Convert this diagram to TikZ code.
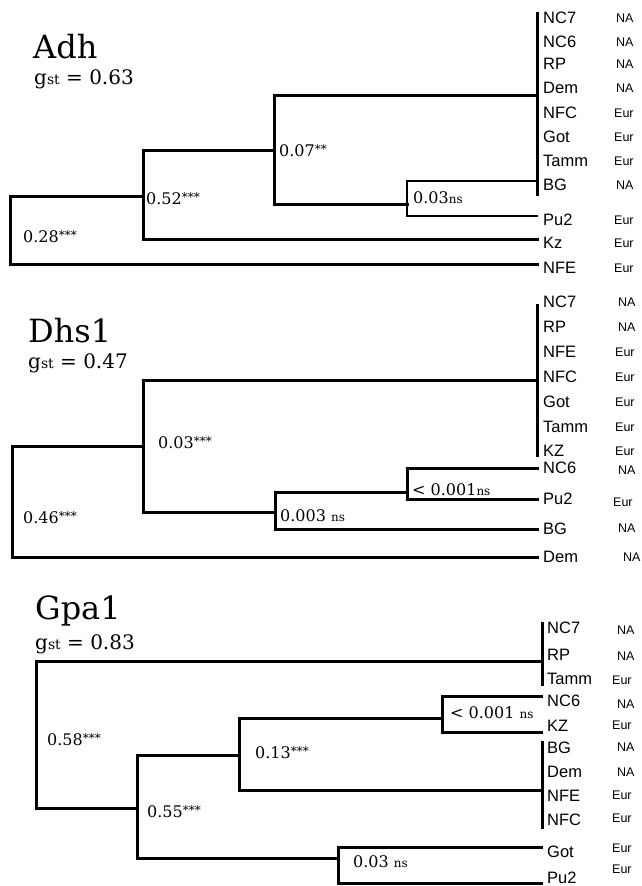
\documentclass[tikz,border=0pt]{standalone}
\usepackage{fontspec}
\setmainfont{DejaVu Serif}
\newfontfamily\leaffont{Liberation Sans}
\tikzset{
  branch/.style={line width=3pt, line cap=rect, line join=miter},
  thinbranch/.style={line width=2.2pt, line cap=rect, line join=miter},
  leaf/.style={anchor=west, inner xsep=6pt, inner ysep=0pt, text height=11.8pt, text depth=0pt, font=\leaffont\fontsize{16.5}{16.5}\selectfont},
  pop/.style={anchor=west, inner sep=0pt, text height=9pt, text depth=0pt, font=\leaffont\fontsize{12.5}{12.5}\selectfont},
  stat/.style={anchor=west, inner sep=0pt, text height=11.6pt, text depth=0pt, font=\fontsize{16}{16}\selectfont},
  gene/.style={anchor=base west, inner sep=0pt, font=\fontsize{32}{32}\selectfont},
  gstat/.style={anchor=base west, inner sep=0pt, font=\fontsize{20}{20}\selectfont},
}
\newcommand{\sig}[1]{\raisebox{3pt}{\fontsize{12}{12}\selectfont #1}}
\newcommand{\nsig}{{\fontsize{12}{12}\selectfont ns}}
\newcommand{\gst}{g{\fontsize{14}{14}\selectfont st}}
\begin{document}
\begin{tikzpicture}[x=1pt,y=-1pt]
\useasboundingbox (0,0) rectangle (641,886);

% Adh
\node[gene] (tAdh) at (33,58) {Adh};
\node[gstat] (gAdh) at (34,84) {\gst{} = 0.63};
\node[leaf] (aNC7) at (537,18) {NC7};   \node[pop] (aNC7p) at (616,18) {NA};
\node[leaf] (aNC6) at (537,42) {NC6};   \node[pop] (aNC6p) at (616,42) {NA};
\node[leaf] (aRP) at (537,64) {RP};     \node[pop] (aRPp) at (616,64) {NA};
\node[leaf] (aDem) at (537,88) {Dem};   \node[pop] (aDemp) at (616,88) {NA};
\node[leaf] (aNFC) at (537,113) {NFC};  \node[pop] (aNFCp) at (614,113) {Eur};
\node[leaf] (aGot) at (537,137) {Got};  \node[pop] (aGotp) at (614,137) {Eur};
\node[leaf] (aTamm) at (537,161) {Tamm}; \node[pop] (aTammp) at (614,161) {Eur};
\node[leaf] (aBG) at (537,185) {BG};    \node[pop] (aBGp) at (616,185) {NA};
\node[leaf] (aPu2) at (537,220) {Pu2};  \node[pop] (aPu2p) at (614,220) {Eur};
\node[leaf] (aKz) at (537,243) {Kz};    \node[pop] (aKzp) at (614,243) {Eur};
\node[leaf] (aNFE) at (537,268) {NFE};  \node[pop] (aNFEp) at (614,268) {Eur};
\coordinate (aRoot) at (10,230);
\coordinate (a52) at (143,196);
\coordinate (a07) at (274,150);
\coordinate (a03) at (407,204);
\coordinate (aC) at (537,95);
\coordinate (aTop) at (537,13);
\coordinate (aBot) at (537,194);
\draw[branch] (aTop) -- (aBot);
\draw[branch] (aRoot) |- (a52);
\draw[branch] (aRoot) |- ([yshift=4pt]aNFE.west);
\draw[branch] (a52) |- (a07);
\draw[branch] (a52) |- ([yshift=4pt]aKz.west);
\draw[branch] (a07) |- (aC);
\draw[branch] (a07) |- (a03);
\draw[thinbranch] (a03) |- ([yshift=4pt]aBG.west);
\draw[thinbranch] (a03) |- ([yshift=4pt]aPu2.west);
\node[stat] (a07l) at (279,151) {0.07\sig{**}};
\node[stat] (a52l) at (146,199) {0.52\sig{***}};
\node[stat] (a28l) at (23,237) {0.28\sig{***}};
\node[stat] (a03l) at (413,198) {0.03\nsig};

% Dhs1
\node[gene] (tDhs) at (28,342) {Dhs1};
\node[gstat] (gDhs) at (28,368) {\gst{} = 0.47};
\node[leaf] (dNC7) at (537,302) {NC7};   \node[pop] (dNC7p) at (618,302) {NA};
\node[leaf] (dRP) at (537,327) {RP};     \node[pop] (dRPp) at (618,327) {NA};
\node[leaf] (dNFE) at (537,352) {NFE};   \node[pop] (dNFEp) at (615,352) {Eur};
\node[leaf] (dNFC) at (537,377) {NFC};   \node[pop] (dNFCp) at (615,377) {Eur};
\node[leaf] (dGot) at (537,402) {Got};   \node[pop] (dGotp) at (615,402) {Eur};
\node[leaf] (dTamm) at (537,427) {Tamm}; \node[pop] (dTammp) at (615,427) {Eur};
\node[leaf] (dKZ) at (537,451) {KZ};     \node[pop] (dKZp) at (615,451) {Eur};
\node[leaf] (dNC6) at (537,468) {NC6};   \node[pop] (dNC6p) at (618,470) {NA};
\node[leaf] (dPu2) at (537,499) {Pu2};   \node[pop] (dPu2p) at (613,502) {Eur};
\node[leaf] (dBG) at (537,529) {BG};     \node[pop] (dBGp) at (618,528) {NA};
\node[leaf] (dDem) at (537,557) {Dem};   \node[pop] (dDemp) at (623,557) {NA};
\coordinate (dRoot) at (12,500);
\coordinate (d03) at (143,446);
\coordinate (d003) at (275,512);
\coordinate (d001) at (407,492);
\coordinate (dC) at (537,380);
\coordinate (dTop) at (537,305);
\coordinate (dBot) at (537,455);
\draw[branch] (dTop) -- (dBot);
\draw[branch] (dRoot) |- (d03);
\draw[branch] (dRoot) |- (dDem.west);
\draw[branch] (d03) |- (dC);
\draw[branch] (d03) |- (d003);
\draw[branch] (d003) |- (d001);
\draw[branch] (d003) |- (dBG.west);
\draw[branch] (d001) |- (dNC6.west);
\draw[branch] (d001) |- (dPu2.west);
\node[stat] (d03l) at (158,443) {0.03\sig{***}};
\node[stat] (d46l) at (23,518) {0.46\sig{***}};
\node[stat] (d003l) at (280,516) {0.003 \nsig};
\node[stat] (d001l) at (412,490) {< 0.001\nsig};

% Gpa1
\node[gene] (tGpa) at (35,619) {Gpa1};
\node[gstat] (gGpa) at (35,649) {\gst{} = 0.83};
\node[leaf] (gNC7) at (541,628) {NC7};   \node[pop] (gNC7p) at (617,630) {NA};
\node[leaf] (gRP) at (541,655) {RP};     \node[pop] (gRPp) at (617,656) {NA};
\node[leaf] (gTamm) at (541,679) {Tamm}; \node[pop] (gTammp) at (612,680) {Eur};
\node[leaf] (gNC6) at (541,701) {NC6};   \node[pop] (gNC6p) at (617,704) {NA};
\node[leaf] (gKZ) at (541,726) {KZ};     \node[pop] (gKZp) at (612,725) {Eur};
\node[leaf] (gBG) at (541,748) {BG};     \node[pop] (gBGp) at (617,747) {NA};
\node[leaf] (gDem) at (541,772) {Dem};   \node[pop] (gDemp) at (617,772) {NA};
\node[leaf] (gNFE) at (541,796) {NFE};   \node[pop] (gNFEp) at (612,795) {Eur};
\node[leaf] (gNFC) at (541,820) {NFC};   \node[pop] (gNFCp) at (612,818) {Eur};
\node[leaf] (gGot) at (541,852) {Got};   \node[pop] (gGotp) at (612,848) {Eur};
\node[leaf] (gPu2) at (541,878) {Pu2};   \node[pop] (gPu2p) at (612,869) {Eur};
\coordinate (gRoot) at (36,740);
\coordinate (g55) at (137,808);
\coordinate (g13) at (239,755);
\coordinate (g001) at (442,718);
\coordinate (g03) at (338,858);
\coordinate (gC1) at (542,661);
\coordinate (gTop1) at (542,623);
\coordinate (gBot1) at (542,684);
\coordinate (gC2) at (542,790);
\coordinate (gTop2) at (542,742);
\coordinate (gBot2) at (542,827);
\draw[branch] (gTop1) -- (gBot1);
\draw[branch] (gTop2) -- (gBot2);
\draw[branch] (gRoot) |- (gC1);
\draw[branch] (gRoot) |- (g55);
\draw[branch] (g55) |- (g13);
\draw[branch] (g55) |- (g03);
\draw[branch] (g13) |- (g001);
\draw[branch] (g13) |- (gC2);
\draw[branch] (g001) |- ([yshift=5pt]gNC6.west);
\draw[branch] (g001) |- ([yshift=-6pt]gKZ.west);
\draw[branch] (g03) |- ([yshift=5pt]gGot.west);
\draw[branch] (g03) |- ([yshift=-5pt]gPu2.west);
\node[stat] (g58l) at (47,740) {0.58\sig{***}};
\node[stat] (g13l) at (255,753) {0.13\sig{***}};
\node[stat] (g55l) at (147,812) {0.55\sig{***}};
\node[stat] (g001l) at (450,713) {< 0.001 \nsig};
\node[stat] (g03l) at (353,862) {0.03 \nsig};
\end{tikzpicture}
\end{document}
